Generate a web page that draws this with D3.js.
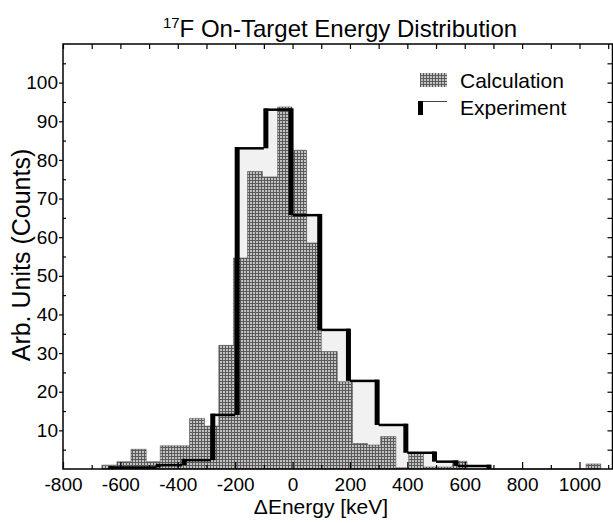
<!DOCTYPE html>
<html>
<head>
<meta charset="utf-8">
<script src="https://cdn.jsdelivr.net/npm/d3@7"></script>
<style>
  body { margin: 0; background: #fff; }
  text { font-family: "Liberation Sans", Arial, sans-serif; fill: #000; }
</style>
</head>
<body>
<div id="chart"></div>
<script>
// calculation histogram: bin edges (keV) and heights
const calcEdges = [-665, -612, -563, -510, -461, -410, -359, -307, -257, -206, -157, -105, -52, -2,
                   49, 100, 156, 209, 261, 307, 360, 405, 456, 507, 557, 608, 1023, 1074];
const calcCounts = [1.0, 1.9, 5.1, 1.9, 6.0, 6.0, 13.1, 11.1, 32, 54.6, 77, 75.6, 93.7, 82.5,
                    58.5, 30.4, 22.6, 6.6, 6.2, 8.4, 0.3, 4.1, 0.5, 0.5, 2.0, 0, 1.3];

// experiment histogram
const expEdges = [-640, -475, -385, -285, -200, -100, 0, 100, 200, 300, 400, 500, 575, 690];
const expCounts = [0.4, 1.0, 2.3, 14, 83, 93, 65.7, 36, 22.8, 11.4, 4.2, 1.9, 0.8];

const xTicks = [-800, -600, -400, -200, 0, 200, 400, 600, 800, 1000];
const xMinor = [-700, -500, -300, -100, 100, 300, 500, 700, 900, 1100];
const yTicks = [10, 20, 30, 40, 50, 60, 70, 80, 90, 100];
const yMinor = [5, 15, 25, 35, 45, 55, 65, 75, 85, 95, 105];

const width = 613, height = 523;
const x = d3.scaleLinear().domain([-800, 1115]).range([63, 612.5]);
const y = d3.scaleLinear().domain([0, 110]).range([469, 44]);

const svg = d3.select("#chart").append("svg")
    .attr("width", width)
    .attr("height", height);

// fine cross-hatch used for the calculation bars
const pat = svg.append("defs").append("pattern")
    .attr("id", "hatch")
    .attr("patternUnits", "userSpaceOnUse")
    .attr("width", 3)
    .attr("height", 3);
pat.append("rect").attr("width", 3).attr("height", 3).attr("fill", "#c2c2c2");
pat.append("path").attr("d", "M0,0.5H3M0.5,0V3")
    .attr("stroke", "#5a5a5a").attr("stroke-width", 1);

function stepPoints(edges, counts) {
    return edges.map((e, i) => ({ e: e, v: counts[Math.min(i, counts.length - 1)] }));
}

const area = d3.area()
    .x(d => x(d.e))
    .y0(y(0))
    .y1(d => y(d.v))
    .curve(d3.curveStepAfter);

// experiment fill (under the calculation)
svg.append("path")
    .datum(stepPoints(expEdges, expCounts))
    .attr("fill", "#f1f1f1")
    .attr("d", area);

// calculation bars
svg.append("path")
    .datum(stepPoints(calcEdges, calcCounts))
    .attr("fill", "url(#hatch)")
    .attr("stroke", "#555")
    .attr("stroke-width", 0.6)
    .attr("d", area);

// experiment outline: thin tops, heavy verticals
const expG = svg.append("g");
expCounts.forEach((c, i) => {
    expG.append("line")
        .attr("x1", x(expEdges[i])).attr("x2", x(expEdges[i + 1]))
        .attr("y1", y(c)).attr("y2", y(c))
        .attr("stroke", "#000").attr("stroke-width", 2.5);
});
expEdges.forEach((e, i) => {
    const left = i > 0 ? expCounts[i - 1] : 0;
    const right = i < expCounts.length ? expCounts[i] : 0;
    const rising = right > left;
    expG.append("rect")
        .attr("x", rising ? x(e) - 0.5 : x(e) - 4)
        .attr("width", 5)
        .attr("y", y(Math.max(left, right)) - 1.2)
        .attr("height", Math.abs(y(left) - y(right)) + 1.2)
        .attr("fill", "#000");
});

// axes
const bottom = svg.append("g")
    .attr("transform", `translate(0,${y(0)})`)
    .call(d3.axisBottom(x).tickValues(xTicks).tickSize(-7).tickPadding(9).tickFormat(d3.format("d")));
svg.append("g")
    .attr("transform", `translate(0,${y(0)})`)
    .call(d3.axisBottom(x).tickValues(xMinor).tickSize(-4).tickFormat(""));
svg.append("g")
    .attr("transform", `translate(0,${y(110)})`)
    .call(d3.axisTop(x).tickValues(xTicks.concat(xMinor)).tickSize(-5).tickFormat(""));

svg.append("g")
    .attr("transform", `translate(${x(-800)},0)`)
    .call(d3.axisLeft(y).tickValues(yTicks).tickSize(4).tickPadding(1));
svg.append("g")
    .attr("transform", `translate(${x(-800)},0)`)
    .call(d3.axisLeft(y).tickValues(yMinor).tickSize(-3).tickFormat(""));
svg.append("g")
    .attr("transform", `translate(${x(1115)},0)`)
    .call(d3.axisRight(y).tickValues(yTicks.concat(yMinor)).tickSize(-5).tickFormat(""));

svg.selectAll(".domain").remove();
svg.selectAll(".tick line").attr("stroke", "#000").attr("stroke-width", 1.2);
svg.selectAll(".tick text")
    .style("font-family", "'Liberation Sans', Arial, sans-serif")
    .style("font-size", "19px")
    .attr("fill", "#000");
bottom.selectAll(".tick text").text(d => d < 0 ? "-" + Math.abs(d) : d);

// frame
svg.append("rect")
    .attr("x", x(-800)).attr("y", y(110))
    .attr("width", x(1115) - x(-800)).attr("height", y(0) - y(110))
    .attr("fill", "none").attr("stroke", "#000").attr("stroke-width", 1.5);

// title
const title = svg.append("text")
    .attr("x", 340).attr("y", 37)
    .attr("text-anchor", "middle")
    .style("font-size", "24px");
title.append("tspan").attr("dy", "-9").style("font-size", "15px").text("17");
title.append("tspan").attr("dy", "9").text("F On-Target Energy Distribution");

// axis labels
svg.append("text")
    .attr("x", 321).attr("y", 514)
    .attr("text-anchor", "middle")
    .style("font-size", "21px")
    .text("\u0394Energy [keV]");

svg.append("text")
    .attr("transform", "translate(30,255) rotate(-90)")
    .attr("text-anchor", "middle")
    .style("font-size", "25px")
    .text("Arb. Units (Counts)");

// legend
const leg = svg.append("g");
leg.append("rect")
    .attr("x", 420).attr("y", 73).attr("width", 27).attr("height", 14)
    .attr("fill", "url(#hatch)");
leg.append("text").attr("x", 460).attr("y", 88).style("font-size", "21px").text("Calculation");
leg.append("rect")
    .attr("x", 418).attr("y", 101).attr("width", 5).attr("height", 14)
    .attr("fill", "#000");
leg.append("line")
    .attr("x1", 423).attr("x2", 447).attr("y1", 101.5).attr("y2", 101.5)
    .attr("stroke", "#444").attr("stroke-width", 1);
leg.append("text").attr("x", 460).attr("y", 115).style("font-size", "21px").text("Experiment");
</script>
</body>
</html>
